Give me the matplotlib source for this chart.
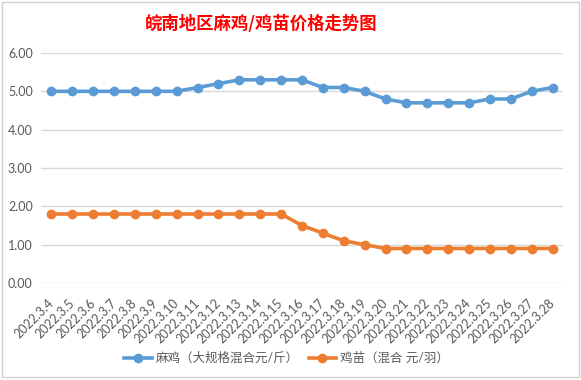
import matplotlib.pyplot as plt
from matplotlib.patches import Rectangle

plt.rcParams['font.family'] = ['Lato', 'Noto Sans CJK SC', 'DejaVu Sans']

dates = ['2022.3.%d' % d for d in range(4, 29)]
maji = [5.0, 5.0, 5.0, 5.0, 5.0, 5.0, 5.0, 5.1, 5.2, 5.3, 5.3, 5.3, 5.3,
        5.1, 5.1, 5.0, 4.8, 4.7, 4.7, 4.7, 4.7, 4.8, 4.8, 5.0, 5.1]
jimiao = [1.8, 1.8, 1.8, 1.8, 1.8, 1.8, 1.8, 1.8, 1.8, 1.8, 1.8, 1.8, 1.5,
          1.3, 1.1, 1.0, 0.9, 0.9, 0.9, 0.9, 0.9, 0.9, 0.9, 0.9, 0.9]
yticks = [0, 1, 2, 3, 4, 5, 6]

blue = '#5B9BD5'
orange = '#ED7D31'
txt = '#595959'

fig = plt.figure(figsize=(5.81, 3.80), dpi=100)
fig.patches.append(Rectangle((2 / 581, 3 / 380), 577 / 581, 375 / 380,
                             transform=fig.transFigure, fill=False,
                             edgecolor='#D0D0D8', linewidth=1))
ax = fig.add_axes([41 / 581, 1 - 283 / 380, 522 / 581, 230 / 380])

x = list(range(len(dates)))
ax.plot(x, maji, color=blue, linewidth=2.6, marker='o', markersize=6,
        label='麻鸡（大规格混合元/斤）', zorder=3)
ax.plot(x, jimiao, color=orange, linewidth=2.6, marker='o', markersize=6,
        label='鸡苗（混合 元/羽）', zorder=3)

ax.set_xlim(-0.5, len(dates) - 0.5)
ax.set_ylim(0, 6)
ax.set_yticks(yticks)
ax.set_yticklabels(['%.2f' % v for v in yticks], color=txt, fontsize=9)
ax.set_xticks(x)
ax.set_xticklabels(dates, rotation=45, ha='right', va='center',
                   rotation_mode='anchor', color=txt, fontsize=9)
ax.tick_params(axis='both', length=0)
ax.tick_params(axis='x', pad=13)
ax.tick_params(axis='y', pad=6)
ax.grid(axis='y', color='#D9D9D9', linewidth=1)
ax.set_axisbelow(True)
for s in ax.spines.values():
    s.set_visible(False)

fig.text(0.449, 0.938, '皖南地区麻鸡/鸡苗价格走势图', color='#FF0000',
         fontsize=12.5, fontweight='bold', ha='center', va='center',
         family=['Noto Sans CJK SC'])

fig.legend(loc='center', bbox_to_anchor=(0.493, 0.058), ncol=2,
           frameon=False, fontsize=9, handlelength=2.2,
           columnspacing=0.8, handletextpad=0.3, labelcolor=txt)

plt.savefig('out.png', dpi=100)
